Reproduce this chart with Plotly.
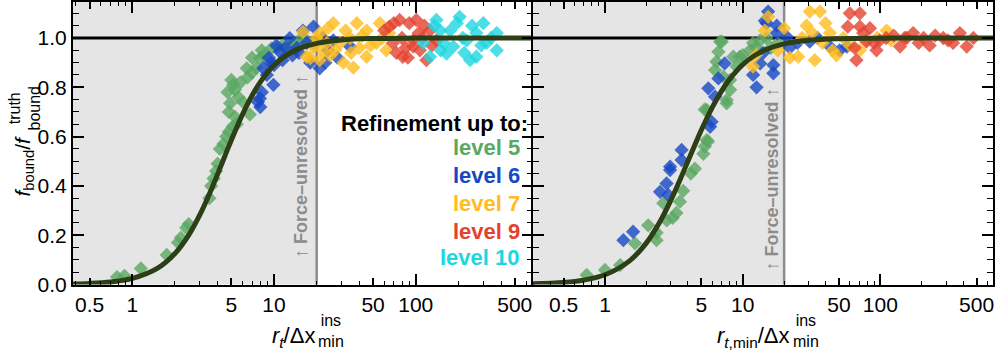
import plotly.graph_objects as go

# ---------------- data ----------------
# left panel: x = r_t / dx_min^ins , y = f_bound / f_bound^truth
A5_X = [0.78, 0.88, 1.15, 1.75, 2.1, 2.2, 2.4, 2.5, 3.5, 3.6, 3.75, 3.9, 4.0, 4.15, 4.4, 4.6, 4.8, 5.1,
        5.45, 5.3, 6.75, 4.8, 4.9, 6.05, 5.6, 4.7, 5.3, 5.16, 5.0, 5.8, 6.5, 6.42, 7.0, 7.5, 7.95, 7.0,
        8.5, 9.6, 8.2, 10.5, 11.5, 13.0, 14.0, 15.0, 17.0, 19.0]
A5_Y = [0.03, 0.035, 0.065, 0.12, 0.17, 0.19, 0.23, 0.245, 0.35, 0.40, 0.43, 0.46, 0.49, 0.55, 0.57, 0.60,
        0.62, 0.64, 0.65, 0.68, 0.69, 0.70, 0.735, 0.74, 0.76, 0.78, 0.79, 0.81, 0.83, 0.82, 0.84, 0.877,
        0.86, 0.88, 0.918, 0.92, 0.93, 0.958, 0.95, 0.96, 0.97, 0.96, 0.98, 0.99, 0.99, 0.98]
A6_X = [7.95, 8.2, 8.0, 7.7, 9.9, 8.4, 8.9, 9.5, 10.4, 11.0, 11.5, 12.9, 12.0, 13.5, 14.5, 16.0, 18.0,
        19.0, 21.0, 23.0, 26.2, 34.4, 9.2, 10.0, 15.0, 17.0, 22.0, 24.0, 28.0]
A6_Y = [0.755, 0.78, 0.72, 0.74, 0.81, 0.877, 0.85, 0.90, 0.97, 0.944, 0.91, 0.999, 0.96, 0.93, 0.96,
        1.03, 0.90, 1.046, 0.877, 0.90, 0.99, 0.965, 0.92, 0.89, 0.94, 0.98, 1.0, 0.95, 0.92]
A7_X = [16, 17, 18, 19, 20, 21, 21, 23.6, 24, 26.2, 27, 29.3, 30.9, 32, 34.4, 36.3, 38.4, 40, 42, 45,
        45, 48, 52.8, 55.8, 58, 62, 65, 25, 22, 35]
A7_Y = [1.025, 0.924, 0.918, 0.965, 1.0, 1.02, 0.91, 0.98, 1.04, 1.06, 0.95, 0.98, 0.90, 1.03, 1.0,
        0.88, 1.06, 0.96, 1.01, 1.03, 0.924, 0.97, 0.98, 1.06, 1.0, 0.95, 1.02, 0.93, 0.95, 0.94]
A9_X = [60, 65, 69, 73, 77, 80, 81, 85, 90, 96, 96, 101, 105, 107, 112, 119, 126, 130, 140, 88, 70, 115]
A9_Y = [1.03, 1.046, 0.98, 0.94, 1.073, 1.0, 0.924, 0.96, 1.06, 0.99, 0.965, 1.073, 1.02, 0.95, 1.0,
        0.91, 1.03, 0.97, 0.99, 0.92, 1.06, 1.05]
A10_X = [113, 126, 135, 140, 149, 157, 165, 175, 184, 204, 215, 229, 242, 250, 268, 268, 290, 300, 316,
         340, 373, 373, 195, 150, 220]
A10_Y = [0.98, 0.924, 1.05, 1.073, 1.03, 0.98, 0.937, 1.03, 0.965, 1.086, 1.0, 0.99, 0.91, 1.05, 1.02,
         0.924, 0.97, 1.06, 0.98, 1.0, 1.02, 0.95, 1.06, 0.95, 0.94]

# right panel: x = r_t,min / dx_min^ins
B5_X = [0.736, 1.0, 1.29, 1.65, 2.06, 2.37, 2.37, 2.65, 2.81, 3.1, 3.3, 3.5, 3.7, 5.18, 5.3, 5.48, 5.6,
        5.48, 5.3, 6.3, 6.45, 6.66, 6.85, 7.05, 7.25, 7.65, 7.65, 8.1, 8.1, 8.55, 9.05, 9.55, 11.3, 11.9,
        13.4, 14.9, 12.5, 10.0, 16.0, 18.0, 4.2, 4.5]
B5_Y = [0.039, 0.059, 0.079, 0.167, 0.24, 0.18, 0.21, 0.33, 0.26, 0.27, 0.29, 0.336, 0.38, 0.53, 0.56,
        0.586, 0.58, 0.708, 0.71, 0.87, 0.904, 0.944, 0.985, 0.985, 0.843, 0.735, 0.748, 0.79, 0.83,
        0.924, 0.884, 0.924, 0.95, 0.98, 0.99, 1.0, 0.96, 0.93, 0.96, 0.98, 0.45, 0.47]
B6_X = [1.36, 1.6, 2.51, 2.8, 2.88, 2.97, 2.97, 3.6, 3.6, 5.63, 5.8, 5.95, 6.3, 6.66, 7.4, 11.9, 12.6,
        13.4, 14.1, 14.5, 15.3, 14.9, 16.7, 16.7, 17.7, 17.7, 20.9, 25, 30.7, 43, 50.6, 57, 22, 35]
B6_Y = [0.18, 0.214, 0.376, 0.41, 0.363, 0.464, 0.478, 0.546, 0.505, 0.796, 0.64, 0.66, 0.762, 0.836,
        0.897, 0.85, 0.80, 0.897, 0.94, 1.07, 1.107, 1.06, 0.89, 0.857, 1.02, 1.05, 1.005, 0.98, 0.985,
        0.965, 0.95, 0.965, 0.96, 1.0]
B7_X = [11.9, 12.5, 14.5, 15.3, 18, 20, 22, 25.3, 27, 29.1, 30.7, 33.4, 36.4, 38, 43, 45, 48, 53.8, 60,
        71, 80, 95, 111, 120, 40, 32]
B7_Y = [0.884, 0.93, 1.03, 1.086, 0.95, 1.04, 0.92, 0.924, 1.0, 1.05, 1.107, 0.91, 1.107, 0.98, 1.02,
        0.95, 0.93, 1.0, 0.97, 0.95, 0.99, 1.0, 1.03, 0.99, 1.06, 1.02]
B9_X = [58, 60, 67, 71, 71, 79, 84, 90, 93.8, 99, 110, 125, 139, 150, 155, 173, 190, 206, 228, 250, 286,
        310, 337, 378, 424, 474, 65, 75]
B9_Y = [1.046, 1.10, 0.91, 1.10, 1.046, 0.985, 1.04, 0.98, 0.95, 0.99, 1.0, 1.01, 0.965, 1.0, 1.0, 1.02,
        0.98, 1.0, 0.97, 1.01, 1.0, 0.99, 0.98, 1.02, 0.965, 1.0, 0.96, 1.02]

# fitted curves
CURVE_X = [0.3, 0.5, 0.7, 1, 1.5, 2, 2.5, 3, 3.5, 4, 4.5, 5, 6, 7, 8, 10, 12, 15, 20, 30, 50, 100, 200, 700]
CURVE_A_Y = [0.001, 0.0045, 0.0103, 0.0247, 0.0653, 0.1254, 0.2002, 0.2831, 0.3674, 0.4478, 0.5212,
             0.5862, 0.6908, 0.7666, 0.8210, 0.8890, 0.9267, 0.9567, 0.9780, 0.9920, 0.9978, 0.9996, 1.0, 1.0]
CURVE_B_Y = [0.0026, 0.0083, 0.0178, 0.0395, 0.0949, 0.1688, 0.2533, 0.3404, 0.4238, 0.5, 0.5673,
             0.6256, 0.7176, 0.7836, 0.8312, 0.8917, 0.926, 0.9544, 0.9759, 0.9904, 0.997, 0.9994, 1.0, 1.0]

FORCE_LIMIT = 20
LEVELS = ["level 5", "level 6", "level 7", "level 9", "level 10"]
COLORS = ["rgb(90,168,98)", "rgb(22,72,196)", "rgb(255,188,28)", "rgb(228,66,48)", "rgb(30,214,224)"]
XTICKS = [0.5, 1, 5, 10, 50, 100, 500]
XMINOR = [0.4, 0.6, 0.7, 0.8, 0.9, 2, 3, 4, 6, 7, 8, 9, 20, 30, 40, 60, 70, 80, 90, 200, 300, 400, 600]

# ---------------- layout constants (pixels) ----------------
W, H = 996, 351
FONT = "Liberation Sans, Arial, sans-serif"
CURVE_COLOR = "#2c3f16"
SHADE = "#e5e5e5"
GRAY = "#8c8c8c"

def px(x):
    return x / W

def py(y):
    return 1 - y / H

fig = go.Figure()

panels = [
    ("x", "y", "x3", [A5_X, A6_X, A7_X, A9_X, A10_X], [A5_Y, A6_Y, A7_Y, A9_Y, A10_Y], [0, 1, 2, 3, 4], CURVE_A_Y),
    ("x2", "y2", "x4", [B5_X, B6_X, B7_X, B9_X], [B5_Y, B6_Y, B7_Y, B9_Y], [0, 1, 2, 3], CURVE_B_Y),
]

for xa, ya, xover, xs, ys, cidx, cy in panels:
    # force-unresolved shading
    fig.add_trace(go.Scatter(x=[0.1, FORCE_LIMIT, FORCE_LIMIT, 0.1], y=[-1, -1, 2, 2], fill="toself",
                             fillcolor=SHADE, mode="none", xaxis=xa, yaxis=ya,
                             showlegend=False, hoverinfo="skip"))
    fig.add_trace(go.Scatter(x=[FORCE_LIMIT, FORCE_LIMIT], y=[-1, 2], mode="lines",
                             line=dict(color=GRAY, width=2.5), xaxis=xa, yaxis=ya,
                             showlegend=False, hoverinfo="skip"))
    # unity line
    fig.add_trace(go.Scatter(x=[0.1, 2000], y=[1, 1], mode="lines", line=dict(color="black", width=3),
                             xaxis=xa, yaxis=ya, showlegend=False, hoverinfo="skip"))
    for x, y, c in zip(xs, ys, cidx):
        fig.add_trace(go.Scatter(x=x, y=y, mode="markers", xaxis=xa, yaxis=ya, showlegend=False,
                                 marker=dict(symbol="diamond", size=11, color=COLORS[c], opacity=0.8,
                                             line=dict(width=0))))
    fig.add_trace(go.Scatter(x=CURVE_X, y=cy, mode="lines", line=dict(color=CURVE_COLOR, width=5, shape="spline"),
                             xaxis=xa, yaxis=ya, showlegend=False))
    # dummy trace so that the decade-tick overlay axis is drawn
    fig.add_trace(go.Scatter(x=[1], y=[None], xaxis=xover, yaxis=ya, showlegend=False, hoverinfo="skip"))

tickfont = dict(family=FONT, size=21, color="black")
xcommon = dict(type="log", showgrid=False, zeroline=False, showline=True, linecolor="black", linewidth=2,
               mirror="ticks", ticks="inside", ticklen=7, tickwidth=1.5, tickcolor="black", automargin=False,
               tickmode="array", tickvals=XTICKS, ticktext=[str(v) for v in XTICKS], tickfont=tickfont,
               minor=dict(tickmode="array", tickvals=XMINOR, ticks="inside", ticklen=4, tickcolor="black",
                          tickwidth=1.2, showgrid=False))
decade = dict(type="log", showgrid=False, zeroline=False, showline=False, ticks="inside", ticklen=11,
              tickwidth=1.5, tickcolor="black", tickmode="array", tickvals=[1, 10, 100],
              showticklabels=False, mirror="ticks", automargin=False)
ycommon = dict(domain=[py(284.5), py(2)], range=[0, 1.146], showgrid=False, zeroline=False, showline=True,
               linecolor="black", linewidth=2, mirror="ticks", ticks="inside", ticklen=11, tickwidth=1.5,
               tickcolor="black", tickvals=[0, 0.2, 0.4, 0.6, 0.8, 1.0], tickformat=".1f", tickfont=tickfont,
               automargin=False,
               minor=dict(dtick=0.05, ticks="inside", ticklen=6, tickcolor="black", tickwidth=1.2))

LEFT_RANGE = [-0.4185, 2.824]
RIGHT_RANGE = [-0.5265, 2.818]

fig.update_layout(
    width=W, height=H, autosize=False,
    margin=dict(l=0, r=0, t=0, b=0, pad=0, autoexpand=False),
    paper_bgcolor="white", plot_bgcolor="white",
    font=dict(family=FONT, color="black"),
    xaxis=dict(xcommon, domain=[px(73), px(532.5)], range=LEFT_RANGE, anchor="y"),
    xaxis2=dict(xcommon, domain=[px(532.5), px(993)], range=RIGHT_RANGE, anchor="y2"),
    xaxis3=dict(decade, overlaying="x", range=LEFT_RANGE, anchor="y"),
    xaxis4=dict(decade, overlaying="x2", range=RIGHT_RANGE, anchor="y2"),
    yaxis=dict(ycommon, anchor="x"),
    yaxis2=dict(ycommon, anchor="x2", showticklabels=False),
)

ann = []
# legend-like text
ann.append(dict(text="<b>Refinement up to:</b>", x=px(530), y=py(124), xanchor="right", yanchor="middle",
                font=dict(size=22, color="black")))
for lab, col, yy in zip(LEVELS, COLORS, [147, 175, 203, 231, 257]):
    ann.append(dict(text=f"<b>{lab}</b>", x=px(522), y=py(yy), xanchor="right", yanchor="middle",
                    font=dict(size=22, color=col)))
# force-unresolved labels
for xx, yy in [(301, 167), (771.5, 179)]:
    ann.append(dict(text="<b>↑ Force–unresolved ↑</b>", x=px(xx), y=py(yy), xanchor="center",
                    yanchor="middle", textangle=-90, font=dict(size=18, color=GRAY)))
# axis titles
ann.append(dict(text="<i>r<sub>t</sub></i>/Δx", x=px(317), y=py(337), xanchor="right", yanchor="middle",
                font=dict(size=22)))
ann.append(dict(text="ins<br>min", x=px(316), y=py(331), xanchor="left", yanchor="middle",
                font=dict(size=16)))
ann.append(dict(text="<i>r</i><sub><i>t</i>,min</sub>/Δx", x=px(792), y=py(337), xanchor="right",
                yanchor="middle", font=dict(size=22)))
ann.append(dict(text="ins<br>min", x=px(791), y=py(331), xanchor="left", yanchor="middle",
                font=dict(size=16)))
ann.append(dict(text="<i>f</i><sub>bound</sub>/<i>f</i>", x=px(24), y=py(199), xanchor="center",
                yanchor="bottom", textangle=-90, font=dict(size=21)))
ann.append(dict(text="truth<br>bound", x=px(24), y=py(133), xanchor="center", yanchor="bottom",
                textangle=-90, font=dict(size=16)))

for a in ann:
    a.update(xref="paper", yref="paper", showarrow=False)
    a.setdefault("font", {})
    a["font"].setdefault("family", FONT)
    a["font"].setdefault("color", "black")
fig.update_layout(annotations=ann)

fig.write_html("out.html", config={"displayModeBar": False},
               post_script="document.body.style.margin='0';document.body.style.padding='0';")
